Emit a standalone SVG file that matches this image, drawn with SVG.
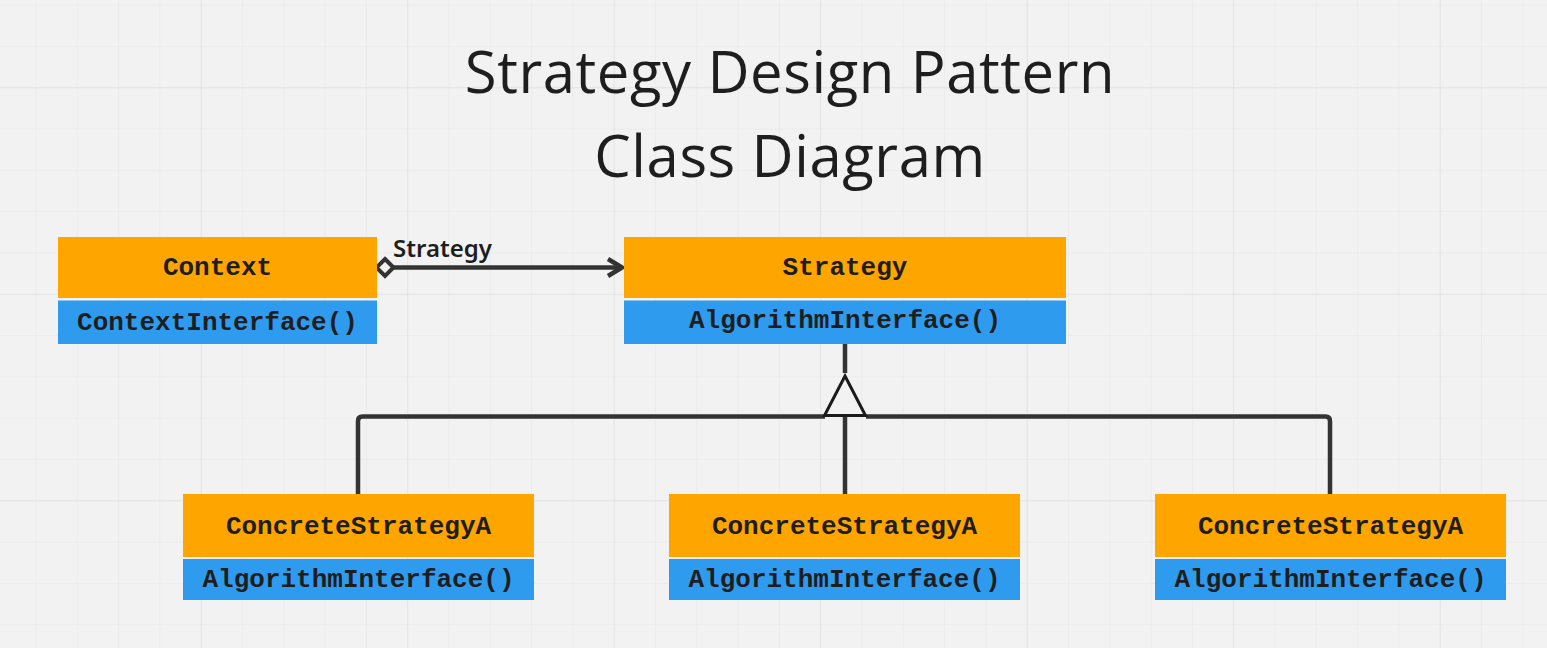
<svg xmlns="http://www.w3.org/2000/svg" width="1547" height="648" viewBox="0 0 1547 648">
<style>
.hd{fill:#ffa500}
.bd{fill:#2f9bef}
.mono{font-family:"Liberation Mono","DejaVu Sans Mono",monospace;font-weight:700;font-size:26px;fill:#1e1e1e;text-anchor:middle}
.title{font-family:"Open Sans","Noto Sans",sans-serif;font-size:58px;letter-spacing:0.6px;fill:#1e1e1e;text-anchor:middle}
.lbl{font-family:"Noto Sans","Open Sans",sans-serif;font-weight:600;font-size:24px;fill:#1e1e1e}
.ln{fill:none;stroke:#333333;stroke-width:4.5;stroke-linejoin:round;stroke-linecap:butt}
</style>
<defs>
<pattern id="minor" x="200.7" y="87.3" width="41.3" height="41.3" patternUnits="userSpaceOnUse">
<path d="M0 0V41.3M0 0H41.3" stroke="#e6e6e6" stroke-width="1" fill="none"/>
</pattern>
<pattern id="major" x="200.7" y="87.3" width="206.5" height="206.5" patternUnits="userSpaceOnUse">
<path d="M0 0V206.5M0 0H206.5" stroke="#dddddd" stroke-width="1.2" fill="none"/>
</pattern>
</defs>
<rect width="1547" height="648" fill="#f2f2f2"/>
<rect width="1547" height="648" fill="url(#minor)"/>
<rect width="1547" height="648" fill="url(#major)"/>

<g id="title">
<text class="title" x="790" y="93">Strategy Design Pattern</text>
<text class="title" x="790" y="177">Class Diagram</text>
</g>

<g id="connectors">
<path class="ln" d="M393 267.5H621"/>
<path class="ln" d="M608 259L622 267.5L608 276"/>
<path d="M385 259L393.5 267.5L385 276L376.5 267.5Z" fill="#f2f2f2" stroke="#333333" stroke-width="4"/>
<text class="lbl" x="393" y="257">Strategy</text>
<path class="ln" d="M845 344V373"/>
<path class="ln" d="M358 494V421Q358 416.5 362.5 416.5H825M866 416.5H1325.5Q1330 416.5 1330 421V494"/>
<path class="ln" d="M845 416.5V494"/>
<path d="M845 376L865.5 415.5H824.5Z" fill="#f2f2f2" stroke="#1a1a1a" stroke-width="3" stroke-linejoin="miter"/>
</g>

<g id="context">
<rect class="hd" x="58" y="237" width="319" height="61"/>
<rect class="bd" x="58" y="300.5" width="319" height="43.5"/>
<text class="mono" x="217.5" y="275">Context</text>
<text class="mono" x="217.5" y="330">ContextInterface()</text>
</g>

<g id="strategy">
<rect class="hd" x="624" y="237" width="442" height="61"/>
<rect class="bd" x="624" y="300.5" width="442" height="43.5"/>
<text class="mono" x="845" y="275">Strategy</text>
<text class="mono" x="845" y="328">AlgorithmInterface()</text>
</g>

<g id="concreteA1">
<rect class="hd" x="183" y="494" width="351" height="63"/>
<rect class="bd" x="183" y="559" width="351" height="41"/>
<text class="mono" x="358.5" y="534">ConcreteStrategyA</text>
<text class="mono" x="358.5" y="587">AlgorithmInterface()</text>
</g>

<g id="concreteA2">
<rect class="hd" x="669" y="494" width="351" height="63"/>
<rect class="bd" x="669" y="559" width="351" height="41"/>
<text class="mono" x="844.5" y="534">ConcreteStrategyA</text>
<text class="mono" x="844.5" y="587">AlgorithmInterface()</text>
</g>

<g id="concreteA3">
<rect class="hd" x="1155" y="494" width="351" height="63"/>
<rect class="bd" x="1155" y="559" width="351" height="41"/>
<text class="mono" x="1330.5" y="534">ConcreteStrategyA</text>
<text class="mono" x="1330.5" y="587">AlgorithmInterface()</text>
</g>
</svg>
